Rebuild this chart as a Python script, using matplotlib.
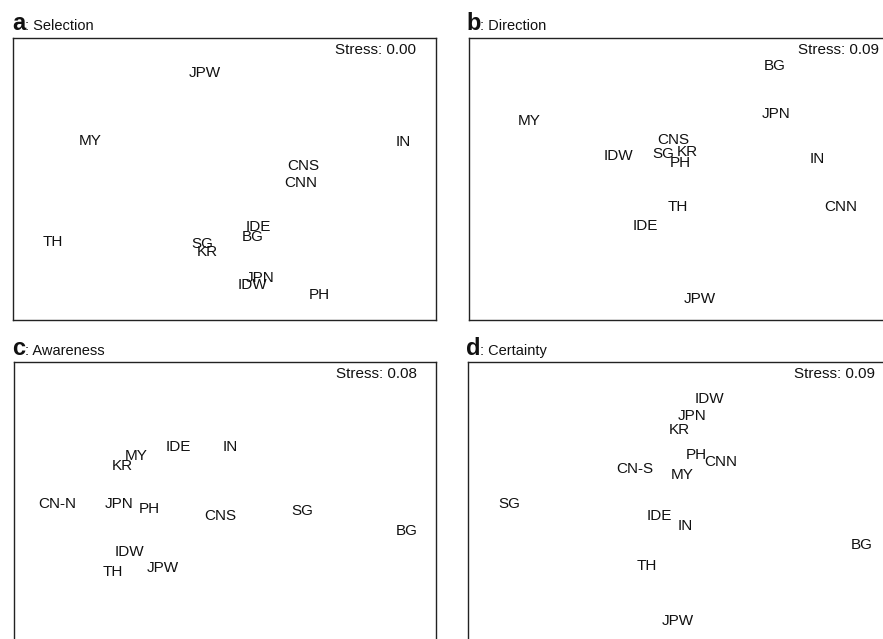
import matplotlib
matplotlib.use("Agg")
import matplotlib.pyplot as plt

plt.rcParams['font.family'] = ['Liberation Sans', 'DejaVu Sans']

# ---- data (MDS configurations, dim1 / dim2) ----
sel_labels = ["JPW", "MY", "IN", "CNS", "CNN", "IDE", "BG", "TH", "SG", "KR", "JPN", "IDW", "PH"]
sel_x = [-0.14, -0.95, 1.27, 0.56, 0.54, 0.24, 0.20, -1.22, -0.16, -0.12, 0.25, 0.20, 0.67]
sel_y = [0.75, 0.27, 0.26, 0.09, -0.03, -0.34, -0.41, -0.45, -0.46, -0.52, -0.70, -0.75, -0.82]
sel_stress = 0.00

dir_labels = ["BG", "MY", "JPN", "CNS", "SG", "KR", "PH", "IDW", "IN", "TH", "CNN", "IDE", "JPW"]
dir_x = [0.67, -1.07, 0.68, -0.05, -0.12, 0.05, 0.00, -0.44, 0.97, -0.02, 1.14, -0.25, 0.14]
dir_y = [0.80, 0.41, 0.46, 0.28, 0.18, 0.19, 0.11, 0.16, 0.14, -0.20, -0.20, -0.33, -0.85]
dir_stress = 0.09

awa_labels = ["IDE", "IN", "MY", "KR", "CN-N", "JPN", "PH", "CNS", "SG", "BG", "IDW", "JPW", "TH"]
awa_x = [-0.33, 0.04, -0.63, -0.73, -1.19, -0.75, -0.54, -0.03, 0.55, 1.29, -0.68, -0.44, -0.80]
awa_y = [0.40, 0.40, 0.33, 0.26, -0.01, -0.01, -0.04, -0.09, -0.06, -0.20, -0.35, -0.46, -0.49]
awa_stress = 0.08

cer_labels = ["IDW", "JPN", "KR", "PH", "CNN", "CN-S", "MY", "SG", "IDE", "IN", "BG", "TH", "JPW"]
cer_x = [0.21, 0.09, 0.00, 0.12, 0.29, -0.32, 0.02, -1.21, -0.14, 0.04, 1.29, -0.23, -0.01]
cer_y = [0.74, 0.62, 0.52, 0.34, 0.29, 0.24, 0.20, -0.01, -0.09, -0.16, -0.30, -0.45, -0.84]
cer_stress = 0.09

panel_letters = ["a", "b", "c", "d"]
panel_titles = ["Selection", "Direction", "Awareness", "Certainty"]

W, H = 883, 639
fig = plt.figure(figsize=(W / 100, H / 100), dpi=100)

# axes rectangles in pixels: left, top, width, height
rects = [(13, 38, 423, 282), (469, 38, 423, 282), (14, 362, 422, 282), (468, 362, 423, 282)]
stress_fx = [0.953, 0.969, 0.955, 0.962]
title_pos = [(12, 30), (466, 30), (12, 355), (466, 355)]

datasets = [
    (sel_labels, sel_x, sel_y, sel_stress),
    (dir_labels, dir_x, dir_y, dir_stress),
    (awa_labels, awa_x, awa_y, awa_stress),
    (cer_labels, cer_x, cer_y, cer_stress),
]

renderer = fig.canvas.get_renderer()
for i, (labels, xs, ys, stress) in enumerate(datasets):
    l, t, w, h = rects[i]
    ax = fig.add_axes([l / W, 1 - (t + h) / H, w / W, h / H])
    ax.set_xlim(-1.5, 1.5)
    ax.set_ylim(-1, 1)
    ax.set_xticks([])
    ax.set_yticks([])
    for s in ax.spines.values():
        s.set_linewidth(1.0)
        s.set_color("#222222")
    for lab, x, y in zip(labels, xs, ys):
        ax.text(x, y, lab, ha="center", va="center", fontsize=11, color="#111111")
    ax.text(stress_fx[i], 0.957, f"Stress: {stress:.2f}", transform=ax.transAxes,
            ha="right", va="center", fontsize=11, color="#111111")

    tx, ty = title_pos[i]
    t1 = fig.text(tx / W, 1 - ty / H, panel_letters[i], fontsize=17, fontweight="bold",
                  ha="left", va="baseline", color="#111111")
    bb = t1.get_window_extent(renderer)
    fig.text(bb.x1 / W, 1 - ty / H, ": " + panel_titles[i], fontsize=10.5,
             ha="left", va="baseline", color="#111111")

fig.savefig("out.png", dpi=100)
